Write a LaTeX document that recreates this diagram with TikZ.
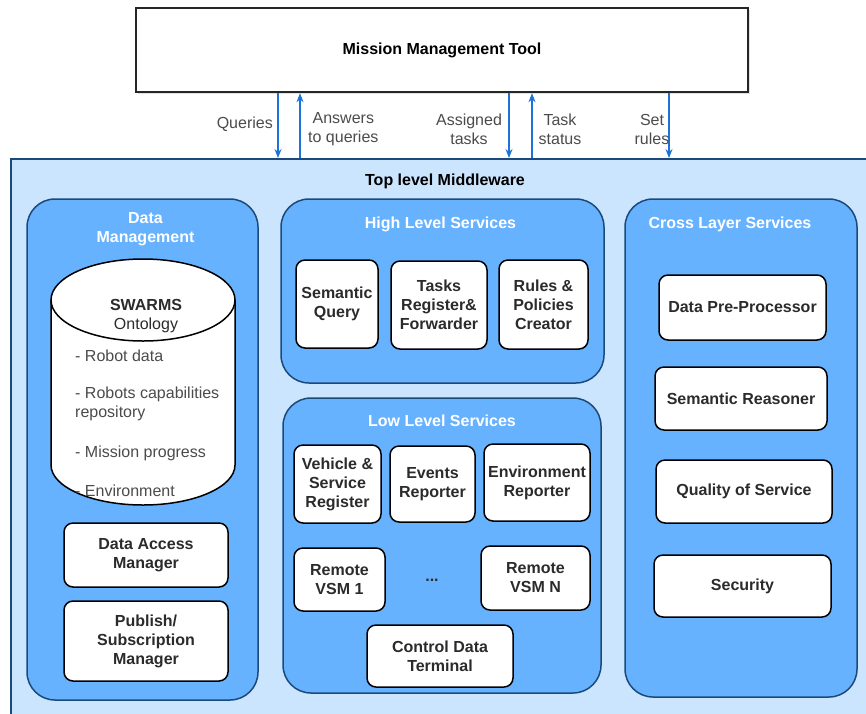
\documentclass[tikz,border=0pt]{standalone}
\usepackage{fontspec}
\setmainfont{Liberation Sans}
\usepackage{tikz}
\usetikzlibrary{positioning}
\usetikzlibrary{arrows.meta,shadows}

\definecolor{paleblue}{HTML}{CCE5FF}
\definecolor{midblue}{HTML}{66B2FF}
\definecolor{navyline}{HTML}{1B4A7A}
\definecolor{linkblue}{HTML}{1A73D9}
\definecolor{inkgray}{HTML}{2B2B2B}
\newcommand{\lbl}{\fontsize{16}{19}\selectfont}

\tikzset{
	svcbox/.style={draw=black, line width=1.5pt, fill=white, rounded corners=9pt,
		align=center, inner sep=0pt, font=\lbl\bfseries, text=inkgray},
	layer/.style={draw=navyline, line width=1.5pt, fill=midblue, rounded corners=28pt, inner sep=0pt},
	layertitle/.style={font=\lbl\bfseries, text=white, align=center, inner sep=0pt},
	flow/.style={linkblue, line width=1.2pt, -{Stealth[length=9pt,width=7pt]}},
	flowlabel/.style={font=\lbl, text=inkgray!85, align=center, inner sep=0pt},
	ontoitem/.style={font=\lbl, text=inkgray!85, anchor=west, align=left, inner sep=0pt},
}

\begin{document}
\begin{tikzpicture}[x=1pt, y=-1pt]
\useasboundingbox (0,0) rectangle (866,713);
\clip (0,0) rectangle (866,713);

	% ---------------------
	% Mission Management Tool
	\node[draw=black!85, line width=2.4pt, fill=white, minimum width=612pt, minimum height=84pt,
		drop shadow={shadow xshift=2pt, shadow yshift=-2pt, fill=black!25},
		font=\lbl\bfseries] (mmt) at (442,50) {Mission Management Tool};

	% ---------------------
	% Top level Middleware
	\node[draw=navyline, line width=2pt, fill=paleblue, anchor=north west,
		minimum width=880pt, minimum height=580pt, inner sep=0pt] (tlm) at (10,158) {};
	\node[font=\lbl\bfseries, inner sep=0pt] (tlmtitle) at (445,181) {Top level Middleware};

	% ---------------------
	% Interface arrows
	\coordinate (Queries) at (278,0);
	\coordinate (Answers) at (300,0);
	\coordinate (Assigned) at (509,0);
	\coordinate (Status) at (532,0);
	\coordinate (Rules) at (669,0);

	\draw[flow] (mmt.south -| Queries) -- (tlm.north -| Queries);
	\draw[flow] (tlm.north -| Answers) -- (mmt.south -| Answers);
	\draw[flow] (mmt.south -| Assigned) -- (tlm.north -| Assigned);
	\draw[flow] (tlm.north -| Status) -- (mmt.south -| Status);
	\draw[flow] (mmt.south -| Rules) -- (tlm.north -| Rules);

	\node[flowlabel, anchor=east] (lq) at (273,124) {Queries};
	\node[flowlabel, anchor=west] (la) at (308,129) {Answers\\to queries};
	\node[flowlabel] (lat) at (469,129) {Assigned\\tasks};
	\node[flowlabel] (lts) at (560,129) {Task\\status};
	\node[flowlabel] (lsr) at (652,129) {Set\\rules};

	% ------------------------------------------------
	% Data Management
	\node[layer, minimum width=231pt, minimum height=501pt] (dm) at (142.5,449.5) {};
	\node[layertitle, below=14pt of dm.north, xshift=3pt] (dmtitle) {Data\\Management};

	% ontology cylinder
	\filldraw[fill=white, draw=black, line width=1.5pt] (51,300) -- (51,465)
		arc[start angle=180, end angle=360, x radius=92pt, y radius=40pt] -- (235,300)
		arc[start angle=0, end angle=180, x radius=92pt, y radius=41pt] -- cycle;
	\draw[black, line width=1.5pt] (51,300) arc[start angle=180, end angle=360, x radius=92pt, y radius=41pt];
	\coordinate (Onto) at (143,382);

	\node[font=\lbl\bfseries, text=inkgray, inner sep=0pt] (swarms) at (146,305) {SWARMS};
	\node[font=\lbl, text=inkgray, below=7pt of swarms, inner sep=0pt] (ontology) {Ontology};
	\node[ontoitem] (i1) at (75,356) {- Robot data};
	\node[ontoitem] (i2) at (75,404) {- Robots capabilities\\repository};
	\node[ontoitem] (i3) at (75,453) {- Mission progress};
	\node[ontoitem] (i4) at (75,491) {- Environment};

	\node[svcbox, minimum width=164pt, minimum height=64pt] (dam) at (146,555) {Data Access\\Manager};
	\node[svcbox, minimum width=164pt, minimum height=80pt] (psm) at (146,641) {Publish/\\Subscription\\Manager};

	% ------------------------------------------------
	% High Level Services
	\node[layer, minimum width=323pt, minimum height=184pt] (hls) at (442.5,291) {};
	\node[layertitle, below=18pt of hls.north, xshift=-2pt] (hlstitle) {High Level Services};

	\node[svcbox, minimum width=82pt, minimum height=88pt] (semq) at (337,304) {Semantic\\Query};
	\node[svcbox, minimum width=96pt, minimum height=88pt] (treg) at (439,305) {Tasks\\Register\&\\Forwarder};
	\node[svcbox, minimum width=89pt, minimum height=89pt] (rpc) at (543.5,304.5) {Rules \&\\Policies\\Creator};

	% ------------------------------------------------
	% Low Level Services
	\node[layer, minimum width=318pt, minimum height=295pt] (lls) at (442,545.5) {};
	\node[layertitle, below=17pt of lls.north] (llstitle) {Low Level Services};

	\node[svcbox, minimum width=87pt, minimum height=78pt] (vsr) at (337.5,484) {Vehicle \&\\Service\\Register};
	\node[svcbox, minimum width=85pt, minimum height=76pt] (evr) at (432.5,484) {Events\\Reporter};
	\node[svcbox, minimum width=106pt, minimum height=77pt] (envr) at (537,482.5) {Environment\\Reporter};
	\node[svcbox, minimum width=91pt, minimum height=63pt] (vsm1) at (339.5,579.5) {Remote\\VSM 1};
	\node[font=\lbl\bfseries, text=inkgray, inner sep=0pt] (dots) at (432,580) {...};
	\node[svcbox, minimum width=109pt, minimum height=64pt] (vsmn) at (535.5,578) {Remote\\VSM N};
	\node[svcbox, minimum width=146pt, minimum height=62pt] (cdt) at (440,656) {Control Data\\Terminal};

	% ------------------------------------------------
	% Cross Layer Services
	\node[layer, minimum width=232pt, minimum height=498pt] (cls) at (741,448) {};
	\node[layertitle, below=18pt of cls.north, xshift=-11pt] (clstitle) {Cross Layer Services};

	\node[svcbox, minimum width=167pt, minimum height=65pt] (dpp) at (742.5,307.5) {Data Pre-Processor};
	\node[svcbox, minimum width=172pt, minimum height=63pt] (sr) at (741,398.5) {Semantic Reasoner};
	\node[svcbox, minimum width=176pt, minimum height=63pt] (qos) at (744,491.5) {Quality of Service};
	\node[svcbox, minimum width=177pt, minimum height=62pt] (sec) at (742.5,586) {Security};

\end{tikzpicture}
\end{document}
